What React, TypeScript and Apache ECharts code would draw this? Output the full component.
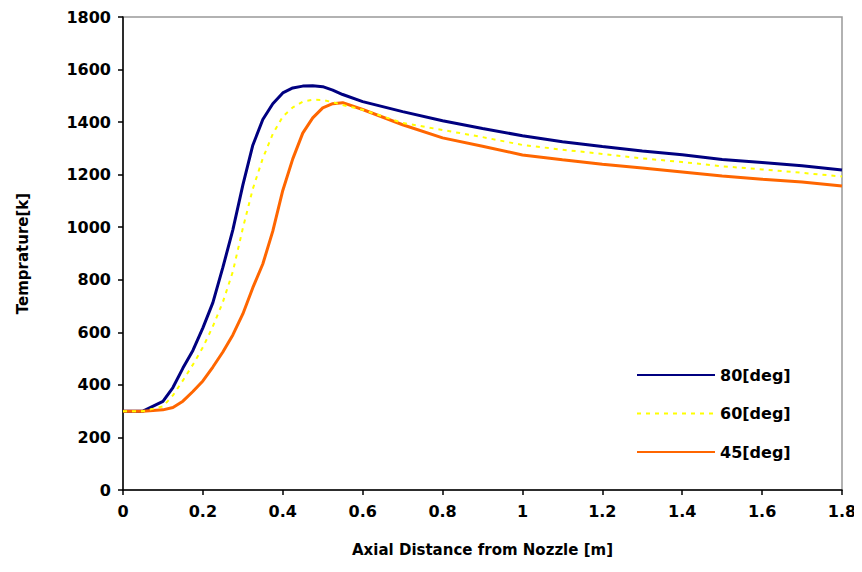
import React, { useEffect, useRef } from "react";
import * as echarts from "echarts";

const distances = [0, 0.05, 0.1, 0.125, 0.15, 0.175, 0.2, 0.225, 0.25, 0.275, 0.3, 0.325, 0.35, 0.375, 0.4, 0.425, 0.45, 0.475, 0.5, 0.525, 0.55, 0.6, 0.7, 0.8, 0.9, 1.0, 1.1, 1.2, 1.3, 1.4, 1.5, 1.6, 1.7, 1.8];

const temp80 = [300, 300, 337, 390, 464, 531, 617, 713, 847, 990, 1160, 1312, 1410, 1470, 1511, 1530, 1537, 1538, 1535, 1522, 1505, 1478, 1440, 1405, 1376, 1348, 1325, 1307, 1290, 1276, 1258, 1246, 1234, 1218];
const temp60 = [300, 300, 318, 360, 417, 477, 543, 623, 715, 831, 996, 1146, 1262, 1355, 1421, 1456, 1478, 1485, 1484, 1476, 1465, 1447, 1397, 1370, 1343, 1313, 1295, 1279, 1262, 1248, 1232, 1220, 1207, 1193];
const temp45 = [300, 300, 305, 314, 338, 375, 415, 468, 525, 590, 670, 770, 860, 985, 1140, 1260, 1358, 1416, 1454, 1470, 1474, 1448, 1390, 1340, 1308, 1275, 1257, 1240, 1225, 1210, 1195, 1183, 1172, 1157];

const seriesNames = ["80[deg]", "60[deg]", "45[deg]"];
const xTicks = { min: 0, max: 1.8, interval: 0.2 };
const yTicks = { min: 0, max: 1800, interval: 200 };

const pairs = (ys: number[]) => distances.map((x, i) => [x, ys[i]]);

export default function App() {
  const ref = useRef<HTMLDivElement>(null);
  useEffect(() => {
    if (!ref.current) return;
    const chart = echarts.init(ref.current, null, { renderer: "svg" });
    const font = "DejaVu Sans";
    chart.setOption({
      animation: false,
      backgroundColor: "#ffffff",
      grid: {
        left: 123,
        right: 20,
        top: 17,
        bottom: 82,
        containLabel: false,
        outerBoundsMode: "none",
        show: true,
        borderColor: "#999999",
        borderWidth: 1.5,
        backgroundColor: "transparent",
      },
      legend: {
        orient: "vertical",
        left: 631,
        top: 362,
        itemWidth: 78,
        itemHeight: 14,
        itemGap: 22.5,
        itemStyle: { opacity: 0 },
        textStyle: { fontFamily: font, fontWeight: "bold", fontSize: 16, color: "#000" },
        data: seriesNames,
      },
      xAxis: {
        type: "value",
        min: xTicks.min,
        max: xTicks.max,
        interval: xTicks.interval,
        name: "Axial Distance from Nozzle [m]",
        nameLocation: "middle",
        nameGap: 52,
        nameTextStyle: { fontFamily: font, fontWeight: "bold", fontSize: 15, color: "#000" },
        axisLine: { lineStyle: { color: "#000", width: 1.5 } },
        axisTick: { show: true, length: 5, lineStyle: { color: "#000", width: 1.5 } },
        axisLabel: { fontFamily: font, fontWeight: "bold", fontSize: 16, color: "#000", margin: 13 },
        splitLine: { show: false },
      },
      yAxis: {
        type: "value",
        min: yTicks.min,
        max: yTicks.max,
        interval: yTicks.interval,
        name: "Temprature[k]",
        nameLocation: "middle",
        nameGap: 93,
        nameTextStyle: { fontFamily: font, fontWeight: "bold", fontSize: 15, color: "#000" },
        axisLine: { show: true, lineStyle: { color: "#000", width: 1.5 } },
        axisTick: { show: true, length: 5, lineStyle: { color: "#000", width: 1.5 } },
        axisLabel: {
          fontFamily: font,
          fontWeight: "bold",
          fontSize: 16,
          color: "#000",
          margin: 12,
          formatter: (v: number) => String(v),
        },
        splitLine: { show: false },
      },
      series: [
        {
          name: seriesNames[0],
          type: "line",
          data: pairs(temp80),
          symbol: "none",
          smooth: false,
          lineStyle: { color: "#000080", width: 3 },
          itemStyle: { color: "#000080" },
          z: 3,
        },
        {
          name: seriesNames[1],
          type: "line",
          data: pairs(temp60),
          symbol: "none",
          smooth: false,
          lineStyle: { color: "#FFFF00", width: 2, type: [4, 5] },
          itemStyle: { color: "#FFFF00" },
          z: 4,
        },
        {
          name: seriesNames[2],
          type: "line",
          data: pairs(temp45),
          symbol: "none",
          smooth: false,
          lineStyle: { color: "#FF6600", width: 3 },
          itemStyle: { color: "#FF6600" },
          z: 3,
        },
      ],
    });
    return () => chart.dispose();
  }, []);
  return <div ref={ref} style={{ width: 862, height: 572, margin: -8 }} />;
}
